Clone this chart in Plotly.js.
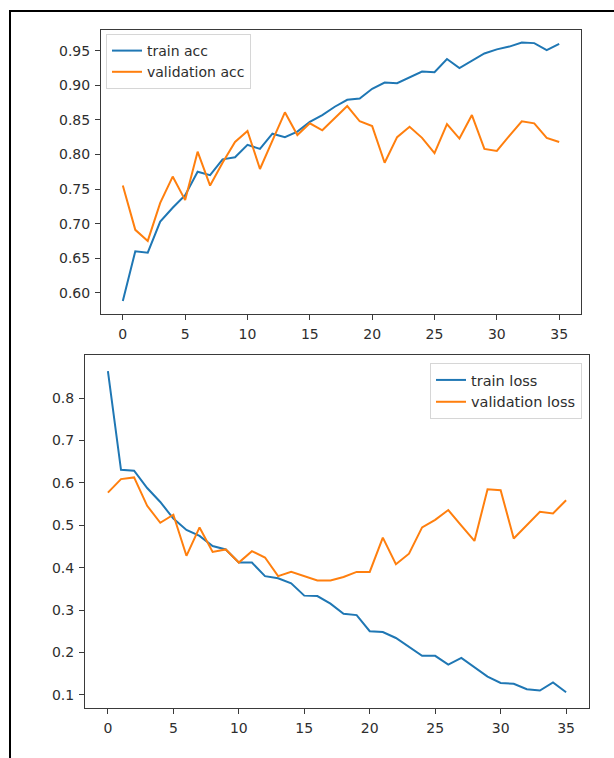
<!DOCTYPE html>
<html>
<head>
<meta charset="utf-8">
<script src="https://cdn.plot.ly/plotly-3.0.1.min.js"></script>
<style>
  html, body { margin: 0; padding: 0; background: #fff; }
  #wrap { position: relative; width: 614px; height: 758px; overflow: hidden; }
  #chart { position: absolute; left: 0; top: 0; width: 614px; height: 758px; }
  #frame { position: absolute; left: 9px; top: 10px; width: 620px; height: 760px;
           border-left: 2px solid #000; border-top: 2px solid #000; pointer-events: none; }
</style>
</head>
<body>
<div id="wrap"><div id="chart"></div><div id="frame"></div></div>
<script>
const epochs = Array.from({length: 36}, (_, i) => i);

const trainAcc = [0.588, 0.660, 0.658, 0.703, 0.723, 0.741, 0.775, 0.770, 0.793, 0.796,
                  0.814, 0.808, 0.830, 0.825, 0.833, 0.847, 0.857, 0.869, 0.879, 0.881,
                  0.895, 0.904, 0.903, 0.912, 0.920, 0.919, 0.938, 0.925, 0.936, 0.946,
                  0.952, 0.956, 0.962, 0.961, 0.951, 0.960];
const valAcc = [0.755, 0.691, 0.675, 0.730, 0.768, 0.734, 0.804, 0.755, 0.788, 0.818,
                0.834, 0.779, 0.820, 0.861, 0.828, 0.845, 0.835, 0.853, 0.870, 0.848,
                0.841, 0.788, 0.825, 0.840, 0.824, 0.802, 0.844, 0.823, 0.857, 0.808,
                0.805, 0.827, 0.848, 0.845, 0.824, 0.818];
const trainLoss = [0.864, 0.631, 0.629, 0.588, 0.555, 0.516, 0.489, 0.475, 0.451, 0.443,
                   0.412, 0.412, 0.380, 0.375, 0.363, 0.334, 0.333, 0.315, 0.291, 0.288,
                   0.250, 0.248, 0.234, 0.213, 0.192, 0.192, 0.171, 0.187, 0.165, 0.143,
                   0.128, 0.126, 0.113, 0.110, 0.129, 0.106];
const valLoss = [0.577, 0.609, 0.613, 0.546, 0.506, 0.525, 0.428, 0.495, 0.437, 0.443,
                 0.412, 0.439, 0.424, 0.380, 0.390, 0.380, 0.370, 0.370, 0.378, 0.390,
                 0.390, 0.471, 0.408, 0.433, 0.495, 0.513, 0.536, 0.499, 0.463, 0.585,
                 0.583, 0.469, 0.501, 0.532, 0.528, 0.559];

const accTicks = [0.60, 0.65, 0.70, 0.75, 0.80, 0.85, 0.90, 0.95];
const lossTicks = [0.1, 0.2, 0.3, 0.4, 0.5, 0.6, 0.7, 0.8];
const xTicks = [0, 5, 10, 15, 20, 25, 30, 35];

const BLUE = '#1f77b4', ORANGE = '#ff7f0e';
const TXT = '#2e2e2e', AXC = '#3a3a3a';
const W = 614, H = 758;

function padRange(arrs) {
  const all = [].concat(...arrs);
  const lo = Math.min(...all), hi = Math.max(...all);
  const m = (hi - lo) * 0.05;
  return [lo - m, hi + m];
}
const xRange = [-0.05 * 35, 35 + 0.05 * 35];

const traces = [
  {x: epochs, y: trainAcc, name: 'train acc', xaxis: 'x', yaxis: 'y', legend: 'legend',
   type: 'scatter', mode: 'lines', line: {color: BLUE, width: 2}},
  {x: epochs, y: valAcc, name: 'validation acc', xaxis: 'x', yaxis: 'y', legend: 'legend',
   type: 'scatter', mode: 'lines', line: {color: ORANGE, width: 2}},
  {x: epochs, y: trainLoss, name: 'train loss', xaxis: 'x2', yaxis: 'y2', legend: 'legend2',
   type: 'scatter', mode: 'lines', line: {color: BLUE, width: 2}},
  {x: epochs, y: valLoss, name: 'validation loss', xaxis: 'x2', yaxis: 'y2', legend: 'legend2',
   type: 'scatter', mode: 'lines', line: {color: ORANGE, width: 2}}
];

function axisBase(fs) {
  return {
    showline: true, mirror: true, linecolor: AXC, linewidth: 1,
    ticks: 'outside', ticklen: 5, tickwidth: 1, tickcolor: AXC,
    ticklabelstandoff: 2,
    showgrid: false, zeroline: false,
    tickfont: {family: 'DejaVu Sans', size: fs, color: TXT}
  };
}

const layout = {
  width: W, height: H,
  margin: {l: 0, r: 0, t: 0, b: 0},
  paper_bgcolor: 'rgba(0,0,0,0)', plot_bgcolor: '#fff',
  showlegend: true,
  xaxis: Object.assign(axisBase(14), {
    domain: [101 / W, 581 / W], anchor: 'y', range: xRange,
    tickvals: xTicks, ticktext: xTicks.map(String)
  }),
  yaxis: Object.assign(axisBase(14), {
    domain: [1 - 314 / H, 1 - 29.5 / H], anchor: 'x',
    range: padRange([trainAcc, valAcc]),
    tickvals: accTicks, ticktext: accTicks.map(v => v.toFixed(2))
  }),
  xaxis2: Object.assign(axisBase(14), {
    domain: [85 / W, 589 / W], anchor: 'y2', range: xRange,
    tickvals: xTicks, ticktext: xTicks.map(String)
  }),
  yaxis2: Object.assign(axisBase(14), {
    domain: [1 - 708.3 / H, 1 - 355 / H], anchor: 'x2',
    range: padRange([trainLoss, valLoss]),
    tickvals: lossTicks, ticktext: lossTicks.map(v => v.toFixed(1))
  }),
  legend: {
    x: 106 / W, y: 1 - 34 / H, xanchor: 'left', yanchor: 'top',
    bgcolor: 'rgba(255,255,255,0.8)', bordercolor: '#d6d6d6', borderwidth: 1,
    font: {family: 'DejaVu Sans', size: 14, color: TXT},
    itemwidth: 30, tracegroupgap: 0
  },
  legend2: {
    x: 582 / W, y: 1 - 363 / H, xanchor: 'right', yanchor: 'top',
    bgcolor: 'rgba(255,255,255,0.8)', bordercolor: '#d6d6d6', borderwidth: 1,
    font: {family: 'DejaVu Sans', size: 14.5, color: TXT},
    itemwidth: 30, tracegroupgap: 0
  }
};

Plotly.newPlot('chart', traces, layout, {displayModeBar: false, staticPlot: true});
</script>
</body>
</html>
